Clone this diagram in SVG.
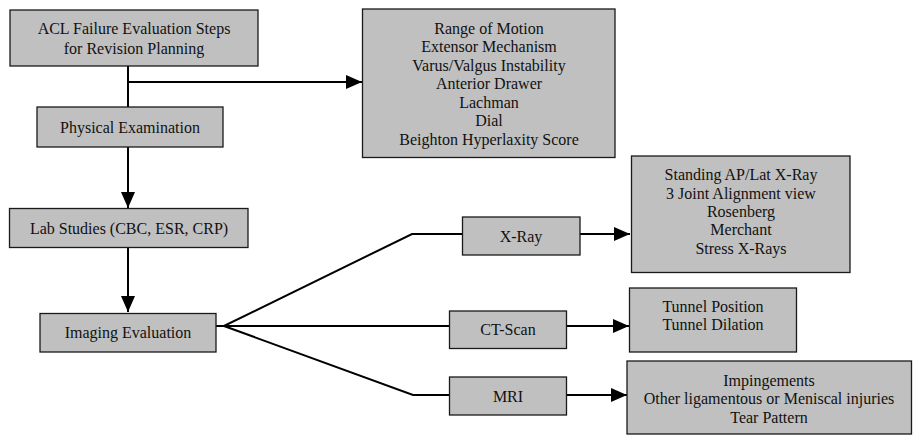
<svg xmlns="http://www.w3.org/2000/svg" width="913" height="435" viewBox="0 0 913 435">
<style>
.box{fill:#c0c0c0;stroke:#1a1a1a;stroke-width:1.3}
.t{font-family:"Liberation Serif","Times New Roman",serif;font-size:16px;fill:#111;text-anchor:middle}
.c{fill:none;stroke:#000;stroke-width:2}
</style>
<defs>
<marker id="ah" markerUnits="userSpaceOnUse" markerWidth="16" markerHeight="14" viewBox="0 0 16 14" refX="16" refY="7" orient="auto">
<path d="M0,0 L16,7 L0,14 Z" fill="#000"/>
</marker>
</defs>
<rect width="913" height="435" fill="#fff"/>
<g id="connectors">
<path class="c" d="M128,66 V107"/>
<path class="c" d="M128,82 H362" marker-end="url(#ah)"/>
<path class="c" d="M128,147 V208" marker-end="url(#ah)"/>
<path class="c" d="M128,247 V312" marker-end="url(#ah)"/>
<path class="c" d="M216,326 H224 L412,234 H462"/>
<path class="c" d="M216,326 H449"/>
<path class="c" d="M224,326 L413,395 H449"/>
<path class="c" d="M580,234 H630" marker-end="url(#ah)"/>
<path class="c" d="M567,326 H629" marker-end="url(#ah)"/>
<path class="c" d="M567,395 H627" marker-end="url(#ah)"/>
</g>
<g id="acl">
<rect class="box" x="10" y="10" width="248" height="56"/>
<text class="t" x="134" y="33.5">ACL Failure Evaluation Steps</text>
<text class="t" x="134" y="53.5">for Revision Planning</text>
</g>
<g id="physical">
<rect class="box" x="37" y="107" width="186" height="40"/>
<text class="t" x="130" y="132.5">Physical Examination</text>
</g>
<g id="rom">
<rect class="box" x="362.5" y="9" width="252.5" height="148.5"/>
<text class="t" x="489" y="33.5">Range of Motion</text>
<text class="t" x="489" y="52">Extensor Mechanism</text>
<text class="t" x="489" y="70.5">Varus/Valgus Instability</text>
<text class="t" x="489" y="89">Anterior Drawer</text>
<text class="t" x="489" y="107.5">Lachman</text>
<text class="t" x="489" y="126">Dial</text>
<text class="t" x="489" y="144.5">Beighton Hyperlaxity Score</text>
</g>
<g id="lab">
<rect class="box" x="9.5" y="208.5" width="238.5" height="39"/>
<text class="t" x="129" y="234">Lab Studies (CBC, ESR, CRP)</text>
</g>
<g id="imaging">
<rect class="box" x="40" y="313.5" width="176" height="38.5"/>
<text class="t" x="128" y="338">Imaging Evaluation</text>
</g>
<g id="xray">
<rect class="box" x="462.5" y="217" width="117.5" height="38"/>
<text class="t" x="521" y="242">X-Ray</text>
</g>
<g id="xraylist">
<rect class="box" x="631.5" y="156" width="218.5" height="116.5"/>
<text class="t" x="741" y="180">Standing AP/Lat X-Ray</text>
<text class="t" x="741" y="198.5">3 Joint Alignment view</text>
<text class="t" x="741" y="217">Rosenberg</text>
<text class="t" x="741" y="235">Merchant</text>
<text class="t" x="741" y="253.5">Stress X-Rays</text>
</g>
<g id="ct">
<rect class="box" x="449.5" y="311" width="117" height="37.5"/>
<text class="t" x="508" y="334.5">CT-Scan</text>
</g>
<g id="ctlist">
<rect class="box" x="629.5" y="288" width="167" height="64"/>
<text class="t" x="713" y="311.5">Tunnel Position</text>
<text class="t" x="713" y="330">Tunnel Dilation</text>
</g>
<g id="mri">
<rect class="box" x="449.5" y="377" width="117" height="38"/>
<text class="t" x="508" y="402">MRI</text>
</g>
<g id="mrilist">
<rect class="box" x="627" y="361" width="284.5" height="73"/>
<text class="t" x="769" y="386">Impingements</text>
<text class="t" x="769" y="404">Other ligamentous or Meniscal injuries</text>
<text class="t" x="769" y="422.5">Tear Pattern</text>
</g>
</svg>
